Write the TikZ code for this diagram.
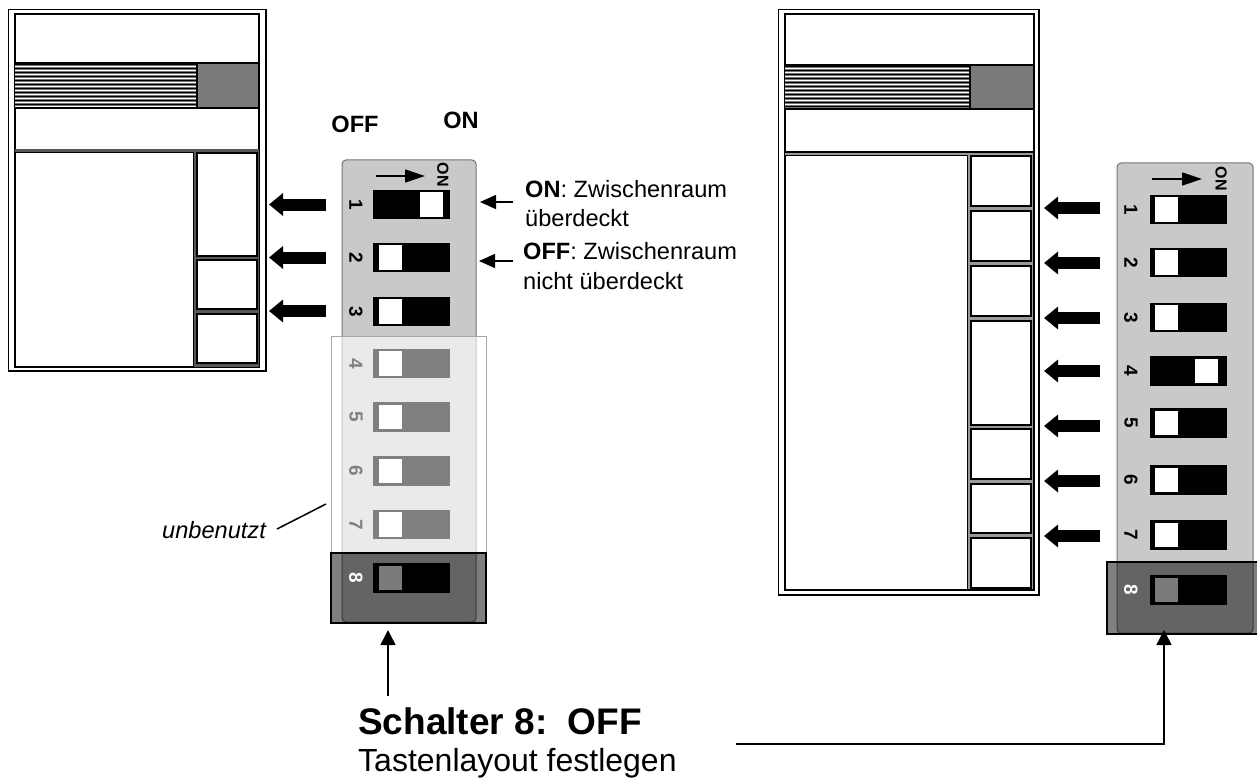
\documentclass[tikz,border=0pt]{standalone}
\usepackage{fontspec}
\setmainfont{Liberation Sans}
\usetikzlibrary{arrows.meta}
\definecolor{bodygrey}{HTML}{C9C9C9}
\definecolor{midgrey}{HTML}{7A7A7A}
\newcommand{\fs}[1]{\fontsize{#1}{#1}\selectfont}
\tikzset{
  x=1pt,y=-1pt,
  box/.style={draw=black,line width=1.3pt,fill=white},
  outerbox/.style={draw=black,line width=1.5pt,fill=white},
  bigarrow/.style={line width=12pt,-{Triangle[length=14pt,width=22pt]}},
  thinarrow/.style={line width=1.5pt,-{Triangle[length=15pt,width=15pt]}},
  smallarrow/.style={line width=1.5pt,-{Triangle[length=16pt,width=14pt]}},
  dirarrow/.style={line width=1.3pt,-{Triangle[length=20pt,width=13pt]}},
  dipbody/.style={draw=black!55,line width=1pt,fill=bodygrey,rounded corners=4pt},
  swbody/.style={fill=black,draw=none,inner sep=0pt,minimum width=77pt,minimum height=29.5pt},
  slider/.style={fill=white,draw=none,inner sep=0pt,minimum width=23pt,minimum height=24.5pt},
  numlab/.style={font=\fs{19}\bfseries,rotate=-90,inner sep=0pt},
  onlab/.style={font=\fs{16}\bfseries,rotate=-90,inner sep=0pt},
  txt/.style={font=\fs{23.6},anchor=base west,inner sep=0pt},
  veil/.style={draw=black!35,line width=.8pt,fill=white,fill opacity=.62},
  dark/.style={draw=black,line width=1.2pt,fill=black,fill opacity=.5},
}
\begin{document}
\begin{tikzpicture}
\useasboundingbox (0,0) rectangle (1257,778);
% ---------- left keyboard
\draw[outerbox] (8.5,9.5) rectangle (266,371);
\draw[box] (15,14) rectangle (259,367);
\fill[black!55] (15,63) rectangle (197,108);
\foreach \y in {65,69,...,107}{
  \draw[white,line width=.8pt] (15,\y+1.8) -- (197,\y+1.8);
  \draw[black,line width=1pt] (15,\y) -- (197,\y);
}
\draw[box] (15,63) -- (259,63);
\draw[box] (15,108) -- (259,108);
\draw[line width=1.5pt,draw=black,fill=midgrey] (197,63) rectangle (259,108);
\fill[white] (15.7,108.7) rectangle (258.3,149);
\fill[black!65] (15,149) rectangle (259,367);
\draw[box] (15,152.5) rectangle (193.5,367);
\node[box,minimum width=60pt,minimum height=103pt,inner sep=0pt] (LK1) at (227,204.5) {};
\node[box,minimum width=60pt,minimum height=49pt,inner sep=0pt] (LK2) at (227,284.5) {};
\node[box,minimum width=60pt,minimum height=49pt,inner sep=0pt] (LK3) at (227,338.5) {};
% ---------- right keyboard
\draw[outerbox] (778.5,9.5) rectangle (1039,595);
\draw[box] (785,14) rectangle (1034,590);
\fill[black!55] (785,65) rectangle (970,109);
\foreach \y in {67,71,...,108}{
  \draw[white,line width=.8pt] (785,\y+1.8) -- (970,\y+1.8);
  \draw[black,line width=1pt] (785,\y) -- (970,\y);
}
\draw[box] (785,65) -- (1034,65);
\draw[box] (785,109) -- (1034,109);
\draw[line width=1.5pt,draw=black,fill=midgrey] (970,65) rectangle (1034,109);
\fill[black!40] (785,151.5) rectangle (1034,590);
\draw[box] (785,155.5) rectangle (967.5,590);
\draw[black,line width=1.3pt] (785,152) -- (1034,152);
\foreach \n/\a/\b in {1/156/206,2/211/261,3/266/316,4/321/425,5/429/479,6/484/533,7/538/588}{
  \node[box,minimum width=60pt,minimum height={\b-\a},inner sep=0pt] (RK\n) at (1001,{(\a+\b)/2}) {};
}
\draw[black,line width=1.3pt] (785,590) -- (1034,590) -- (1034,152);
% ---------- left DIP
\draw[dipbody] (342,160) rectangle (476,622);
\draw[veil] (331,336) rectangle (486,553);
\foreach \n/\y in {1/204.5,2/257.5,3/311.5}{
  \node[swbody] (LS\n) at (411.5,\y) {};
  \node[numlab] (LN\n) at (356,\y) {\n};
}
\node[slider] (LT1) at (431.5,204.5) {};
\node[slider] (LT2) at (390.5,257.5) {};
\node[slider] (LT3) at (390.5,311.5) {};
\foreach \n/\y in {4/363.5,5/417,6/471,7/524.5}{
  \node[swbody,fill=black!50] (LS\n) at (411.5,\y) {};
  \node[slider] (LT\n) at (390.5,\y) {};
  \node[numlab,text=black!50] (LN\n) at (356,\y) {\n};
}
\draw[dark] (331,553) rectangle (486,623);
\node[swbody] (LS8) at (411.5,578) {};
\node[slider,fill=midgrey] (LT8) at (390.5,578) {};
\node[numlab,text=white] (LN8) at (356,578) {8};
\coordinate (LDs) at (376,176);
\coordinate (LDe) at (425,176);
\draw[dirarrow] (LDs) -- (LDe);
\node[onlab] (LON) at (443,175) {ON};
% ---------- right DIP
\draw[dipbody] (1117,163) rectangle (1253,633);
\foreach \n/\y in {1/209.5,2/262.5,3/317.5,4/371,5/423,6/480,7/535}{
  \node[swbody] (RS\n) at (1188,\y) {};
  \node[numlab] (RN\n) at (1131,\y) {\n};
}
\foreach \n/\y in {1/209.5,2/262.5,3/317.5,5/423,6/480,7/535}{
  \node[slider] (RT\n) at (1166.5,\y) {};
}
\node[slider] (RT4) at (1206.5,371) {};
\draw[dark] (1107,562) rectangle (1259,634);
\node[swbody] (RS8) at (1188,590) {};
\node[slider,fill=midgrey] (RT8) at (1166.5,590) {};
\node[numlab,text=white] (RN8) at (1131,590) {8};
\coordinate (RDs) at (1152,179);
\coordinate (RDe) at (1202,179);
\draw[dirarrow] (RDs) -- (RDe);
\node[onlab] (RON) at (1221,179) {ON};
% ---------- big arrows
\foreach \n/\y in {1/204.5,2/257.5,3/311}{
  \coordinate (LA\n s) at (326,\y);
  \coordinate (LA\n e) at (269,\y);
  \draw[bigarrow] (LA\n s) -- (LA\n e);
}
\foreach \n/\y in {1/208,2/263,3/318,4/371,5/426,6/481,7/536}{
  \coordinate (RA\n s) at (1100,\y);
  \coordinate (RA\n e) at (1044,\y);
  \draw[bigarrow] (RA\n s) -- (RA\n e);
}
% ---------- texts
\node[font=\fs{23.6}\bfseries,inner sep=0pt] (off) at (355,124) {OFF};
\node[font=\fs{23.6}\bfseries,inner sep=0pt] (on) at (461,120) {ON};
\coordinate (s1) at (513,202);
\coordinate (e1) at (480,202);
\draw[smallarrow] (s1) -- (e1);
\coordinate (s2) at (513,261);
\coordinate (e2) at (479,261);
\draw[smallarrow] (s2) -- (e2);
\node[txt] (t1) at (525,197) {\textbf{ON}: Zwischenraum};
\node[txt] (t2) at (525,226) {überdeckt};
\node[txt] (t3) at (523,259) {\textbf{OFF}: Zwischenraum};
\node[txt] (t4) at (523,289) {nicht überdeckt};
\node[txt,font=\fs{23.6}\itshape] (unb) at (162,538) {unbenutzt};
\coordinate (u1) at (277,529);
\coordinate (u2) at (326,504);
\draw[line width=1.5pt] (u1) -- (u2);
\node[font=\fs{37}\bfseries,anchor=base west,inner sep=0pt] (sch) at (358,734) {Schalter 8:\ \ OFF};
\node[font=\fs{32},anchor=base west,inner sep=0pt] (tas) at (358,771) {Tastenlayout festlegen};
\coordinate (a1) at (388,696);
\coordinate (a2) at (388,630);
\draw[thinarrow] (a1) -- (a2);
\coordinate (b1) at (736,744);
\coordinate (b2) at (1164,744);
\coordinate (b3) at (1164,630);
\draw[thinarrow] (b1) -- (b2) -- (b3);
\end{tikzpicture}
\end{document}
